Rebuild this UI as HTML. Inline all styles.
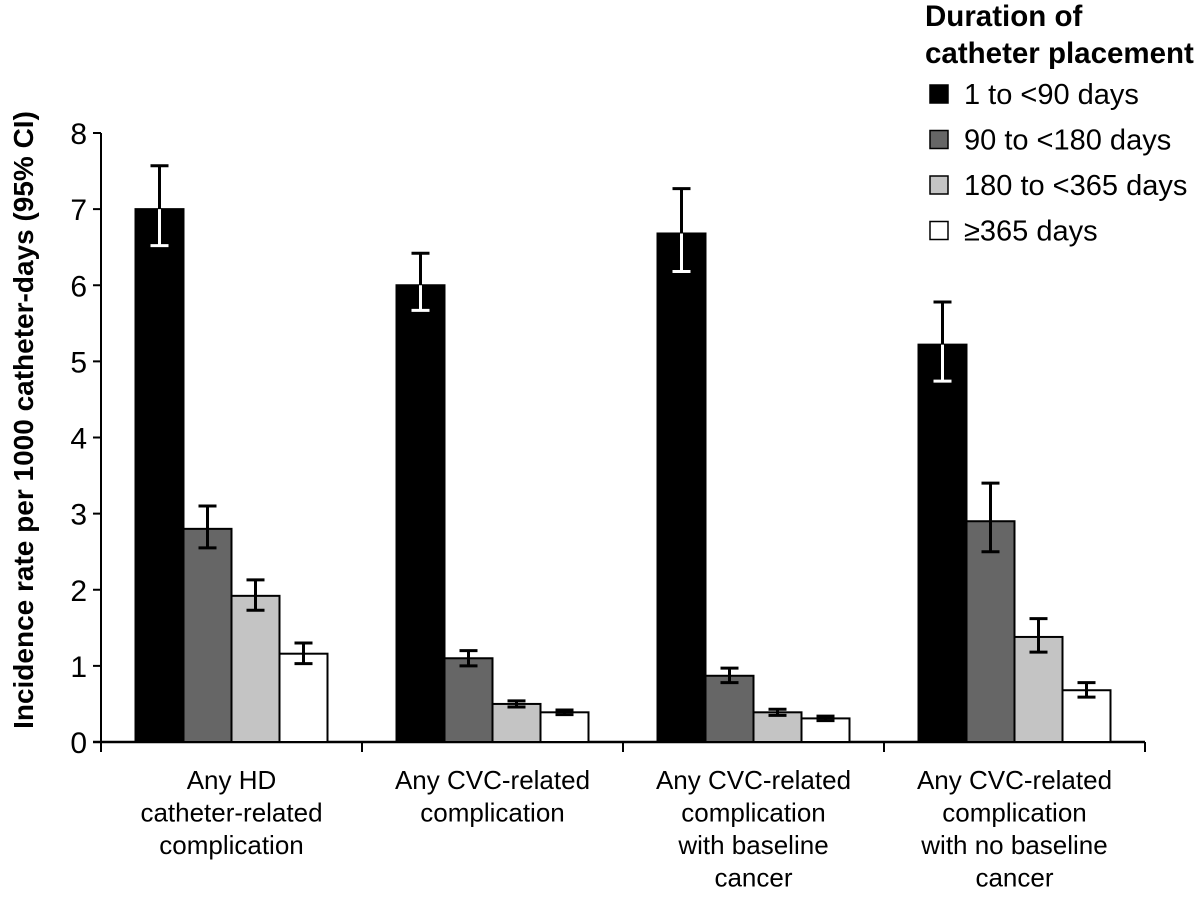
<!DOCTYPE html>
<html><head><meta charset="utf-8"><style>
body{margin:0;background:#fff;}
svg{display:block;font-family:"Liberation Sans",Arial,sans-serif;}
</style></head><body>
<svg id="chart" width="1200" height="905" viewBox="0 0 1200 905">
<g id="axes"></g>
<g id="bars"></g>
<text transform="translate(33,420) rotate(-90)" text-anchor="middle" font-size="28" font-weight="bold">Incidence rate per 1000 catheter-days (95% CI)</text>
<g>
<text x="925" y="26" font-size="29.5" font-weight="bold">Duration of</text>
<text x="925" y="63" font-size="29.5" font-weight="bold">catheter placement</text>
<g id="legendItems"></g>
</g>
</svg>
<script>
const categories = [["Any HD","catheter-related","complication"],["Any CVC-related","complication"],["Any CVC-related","complication","with baseline","cancer"],["Any CVC-related","complication","with no baseline","cancer"]];
const seriesNames = ["1 to <90 days","90 to <180 days","180 to <365 days","\u2265365 days"];
const s1 = [7.0, 6.0, 6.68, 5.22];
const s1lo = [6.52, 5.67, 6.18, 4.74];
const s1hi = [7.57, 6.42, 7.27, 5.78];
const s2 = [2.8, 1.1, 0.87, 2.9];
const s2lo = [2.55, 1.0, 0.78, 2.5];
const s2hi = [3.1, 1.2, 0.97, 3.4];
const s3 = [1.92, 0.5, 0.39, 1.38];
const s3lo = [1.73, 0.46, 0.35, 1.18];
const s3hi = [2.13, 0.54, 0.43, 1.62];
const s4 = [1.16, 0.39, 0.31, 0.68];
const s4lo = [1.03, 0.36, 0.28, 0.59];
const s4hi = [1.3, 0.42, 0.34, 0.78];
const yTicks = [0,1,2,3,4,5,6,7,8];

const NS="http://www.w3.org/2000/svg";
const X0=101, X1=1145, Y0=742, Y8=133;
const groupW=(X1-X0)/categories.length, barW=48, off=(groupW-4*barW)/2;
const fills=["#000","#666","#c4c4c4","#fff"];
const errCol=["#fff","#000","#000","#000"];
function yS(v){return Y0-(Y0-Y8)*v/8;}
function xS(g,s){return X0+g*groupW+off+s*barW;}
function mk(tag,attrs,parent){const e=document.createElementNS(NS,tag);for(const k in attrs)e.setAttribute(k,attrs[k]);parent.appendChild(e);return e;}
const axes=document.getElementById('axes'), bars=document.getElementById('bars');
yTicks.forEach(t=>{
  const l=mk('line',{x1:X0-8,x2:X0,y1:yS(t),y2:yS(t),stroke:'#000','stroke-width':2},axes);
  
  
  const tx=mk('text',{x:X0-14,y:yS(t)+11,'text-anchor':'end','font-size':30},axes);
  tx.textContent=t;
  
  
});
const series=[[s1,s1lo,s1hi],[s2,s2lo,s2hi],[s3,s3lo,s3hi],[s4,s4lo,s4hi]];
categories.forEach((c,g)=>{
  series.forEach((sr,s)=>{
    const x=xS(g,s), y=yS(sr[0][g]);
    const r=mk('rect',{x:x,y:y,width:barW,height:Y0-y,fill:fills[s],stroke:'#000','stroke-width':2},bars);
    
    
    const cx=x+barW/2, lo=yS(sr[1][g]), hi=yS(sr[2][g]);
    const e1=mk('path',{d:`M${cx},${y}V${hi}M${cx-9},${hi}H${cx+9}`,stroke:'#000','stroke-width':3,fill:'none'},bars);
    
    
    const e2=mk('path',{d:`M${cx},${y}V${lo}M${cx-9},${lo}H${cx+9}`,stroke:errCol[s],'stroke-width':3,fill:'none'},bars);
    
    
  });
  const t=mk('text',{'text-anchor':'middle','font-size':26},axes);
  
  
  c.forEach((ln,i)=>{const sp=mk('tspan',{x:X0+g*groupW+groupW/2,y:789+i*32.5},t);sp.textContent=ln;});
});
for(let g=0;g<=categories.length;g++){
  const l=mk('line',{x1:X0+g*groupW,x2:X0+g*groupW,y1:Y0,y2:Y0+10,stroke:'#000','stroke-width':2},axes);
  
  
}
const ya=mk('line',{x1:X0,x2:X0,y1:Y8,y2:Y0,stroke:'#000','stroke-width':2},axes);


const xa=mk('line',{x1:X0-8,x2:X1,y1:Y0,y2:Y0,stroke:'#000','stroke-width':2.5},axes);


const li=document.getElementById('legendItems');
seriesNames.forEach((n,i)=>{
  const cy=94+i*45.5;
  const r=mk('rect',{x:930,y:cy-9,width:18,height:18,fill:fills[i],stroke:'#000','stroke-width':1.5},li);
  
  
  const t=mk('text',{x:964,y:cy+10,'font-size':29},li);
  t.textContent=n;
  
  
});
</script>
</body></html>
